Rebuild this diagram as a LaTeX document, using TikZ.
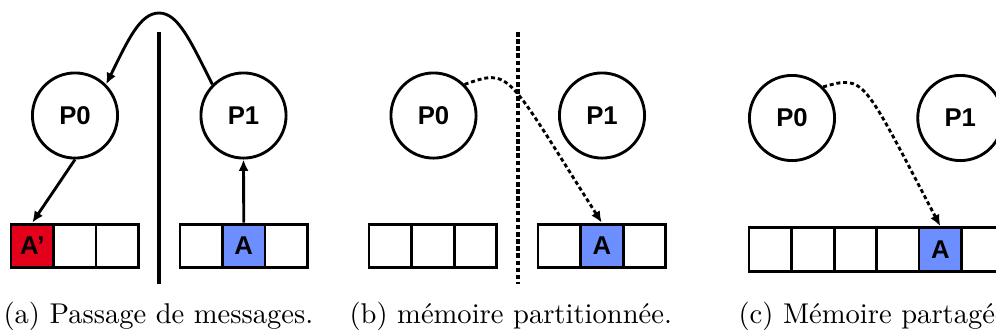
\documentclass[tikz,border=0pt]{standalone}
\usepackage{fontspec}
\newfontfamily\nodefont{Liberation Sans}
\usetikzlibrary{arrows.meta}
\definecolor{cellred}{RGB}{226,0,26}
\definecolor{cellblue}{RGB}{108,142,255}
\begin{document}
\begin{tikzpicture}[x=0.35pt,y=-0.35pt,
  proc/.style={circle,draw,line width=1pt,minimum size=29.8pt,inner sep=0pt,
    font=\nodefont\bfseries\fontsize{9}{10}\selectfont},
  cell/.style={draw,line width=1pt,minimum width=14.9pt,minimum height=15.3pt,inner sep=0pt,
    font=\nodefont\bfseries\fontsize{9}{10}\selectfont},
  link/.style={line width=1pt,-{Latex[length=4pt,width=3.5pt]}},
  dotlink/.style={link,dash pattern=on 1.4pt off 1pt},
  wall/.style={line width=1.5pt},
  dotwall/.style={wall,dash pattern=on 1.6pt off 0.9pt},
  caption/.style={anchor=base west,inner sep=0pt}]
\clip (0,0) rectangle (996,333);

% --- (a) message passing ---
\node[proc] (aP0) at (75,115.5) {P0};
\node[proc] (aP1) at (243.5,115.5) {P1};
\node[cell,fill=cellred] (aL0) at (32.25,246) {A’};
\node[cell] (aL1) at (74.75,246) {};
\node[cell] (aL2) at (117.25,246) {};
\node[cell] (aR0) at (201.25,246) {};
\node[cell,fill=cellblue] (aR1) at (243.75,246) {A};
\node[cell] (aR2) at (286.25,246) {};
\coordinate (aWt) at (159,32);
\coordinate (aWb) at (159,284);
\coordinate (aTop) at (159,13);
\draw[wall] (aWt) -- (aWb);
\draw[link] (aP1.north west) .. controls (190,40) and (178,13) .. (aTop)
  .. controls (140,13) and (128,40) .. (aP0.north east);
\draw[link] (aP0.south) -- (aL0.north);
\draw[link] (aR1.north) -- (aP1.south);
\node[caption] (capA) at (3,323) {(a) Passage de messages.};

% --- (b) partitioned memory ---
\node[proc] (bP0) at (433.5,115.5) {P0};
\node[proc] (bP1) at (602,115.5) {P1};
\node[cell] (bL0) at (390.3,246) {};
\node[cell] (bL1) at (432.8,246) {};
\node[cell] (bL2) at (475.3,246) {};
\node[cell] (bR0) at (559.3,246) {};
\node[cell,fill=cellblue] (bR1) at (601.8,246) {A};
\node[cell] (bR2) at (644.3,246) {};
\coordinate (bWt) at (517.7,32);
\coordinate (bWb) at (517.7,284);
\draw[dotwall] (bWt) -- (bWb);
\draw[dotlink] (bP0.north east) .. controls (511,68) and (505.5,71) .. (bR1.north);
\node[caption] (capB) at (349,323) {(b) mémoire partitionnée.};

% --- (c) shared memory ---
\node[proc] (cP0) at (792,118) {P0};
\node[proc] (cP1) at (960.3,118) {P1};
\foreach \i/\x in {0/770.3,1/812.8,2/855.3,3/897.8,5/982.8,6/1025.3}
  \node[cell] (cC\i) at (\x,249.5) {};
\node[cell,fill=cellblue] (cC4) at (940.3,249.5) {A};
\draw[dotlink] (cP0.north east) .. controls (865,75) and (862,77) .. (cC4.north);
\node[caption] (capC) at (738,323) {(c) Mémoire partagée.};
\end{tikzpicture}
\end{document}
